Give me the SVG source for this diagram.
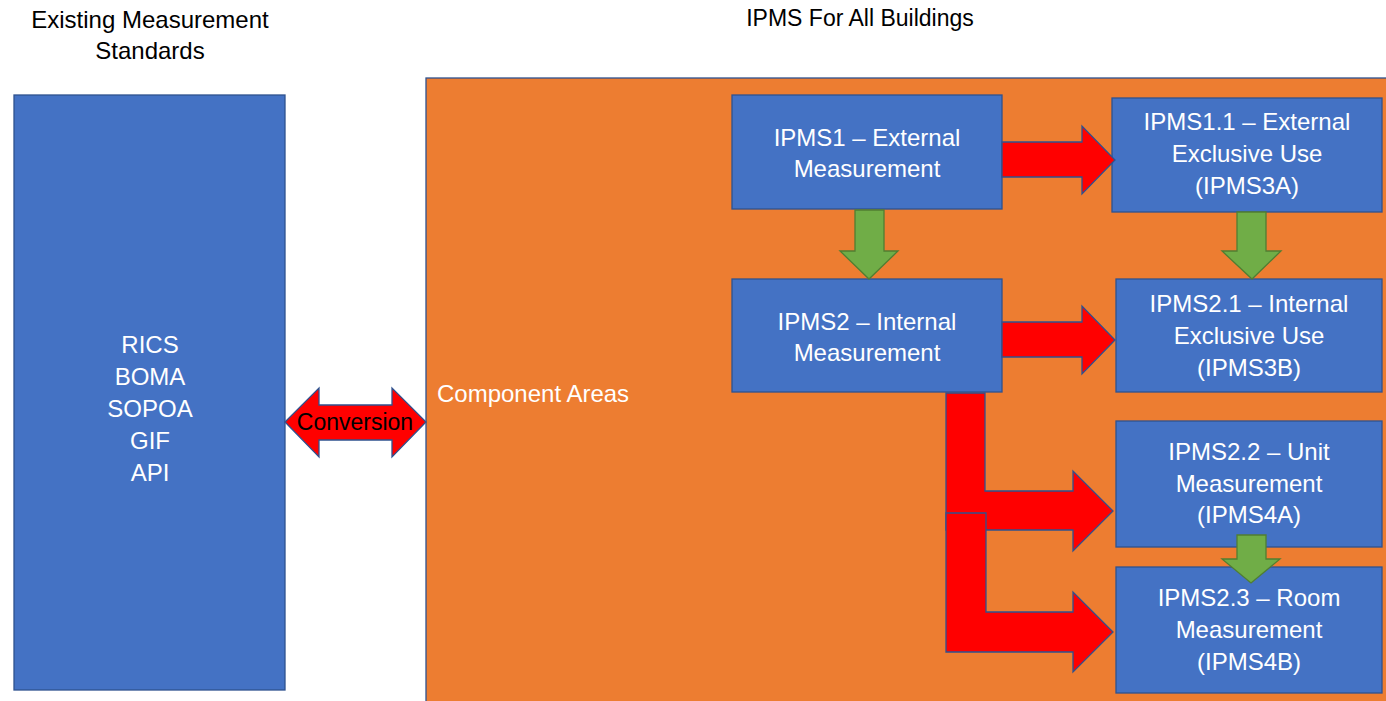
<svg xmlns="http://www.w3.org/2000/svg" width="1386" height="701" viewBox="0 0 1386 701">
<style>
text{font-family:"Liberation Sans",Arial,sans-serif;font-size:24px;text-anchor:middle}
.hdr{fill:#000}
.wt{fill:#fff}
.box{fill:#4472C4;stroke:#2F528F;stroke-width:1.3}
.red{fill:#FF0000;stroke:#2F528F;stroke-width:1.3;stroke-linejoin:miter}
.grn{fill:#70AD47;stroke:#507E32;stroke-width:1.3}
</style>
<rect width="1386" height="701" fill="#fff"/>
<g id="headers">
<text class="hdr" x="150" y="28">Existing Measurement</text>
<text class="hdr" x="150" y="59">Standards</text>
<text class="hdr" x="860" y="26" style="font-size:23px">IPMS For All Buildings</text>
</g>
<g id="existing">
<rect class="box" x="14" y="95" width="271" height="595"/>
<text class="wt" x="150" y="353">RICS</text>
<text class="wt" x="150" y="385">BOMA</text>
<text class="wt" x="150" y="417">SOPOA</text>
<text class="wt" x="150" y="449">GIF</text>
<text class="wt" x="150" y="481">API</text>
</g>
<g id="ipms-area">
<rect x="426" y="78" width="1000" height="700" fill="#ED7D31" stroke="#2F528F" stroke-width="1.3"/>
<text class="wt" x="437" y="402" style="text-anchor:start">Component Areas</text>
</g>
<g id="ipms1">
<rect class="box" x="732" y="95" width="270" height="114"/>
<text class="wt" x="867" y="146">IPMS1 – External</text>
<text class="wt" x="867" y="177">Measurement</text>
</g>
<g id="ipms11">
<rect class="box" x="1112" y="98" width="270" height="114"/>
<text class="wt" x="1247" y="130">IPMS1.1 – External</text>
<text class="wt" x="1247" y="162">Exclusive Use</text>
<text class="wt" x="1247" y="194">(IPMS3A)</text>
</g>
<g id="ipms2">
<rect class="box" x="732" y="279" width="270" height="113"/>
<text class="wt" x="867" y="330">IPMS2 – Internal</text>
<text class="wt" x="867" y="361">Measurement</text>
</g>
<g id="ipms21">
<rect class="box" x="1116" y="279" width="266" height="113"/>
<text class="wt" x="1249" y="312">IPMS2.1 – Internal</text>
<text class="wt" x="1249" y="344">Exclusive Use</text>
<text class="wt" x="1249" y="376">(IPMS3B)</text>
</g>
<g id="ipms22">
<rect class="box" x="1116" y="421" width="266" height="126"/>
<text class="wt" x="1249" y="460">IPMS2.2 – Unit</text>
<text class="wt" x="1249" y="492">Measurement</text>
<text class="wt" x="1249" y="523">(IPMS4A)</text>
</g>
<g id="ipms23">
<rect class="box" x="1116" y="567" width="266" height="126"/>
<text class="wt" x="1249" y="606">IPMS2.3 – Room</text>
<text class="wt" x="1249" y="638">Measurement</text>
<text class="wt" x="1249" y="670">(IPMS4B)</text>
</g>
<g id="connectors">
<polygon id="conversion" class="red" points="285,422 319,388 319,405 392,405 392,388 426,422 392,457 392,440 319,440 319,457"/>
<text x="355" y="430" style="font-size:23px;fill:#000">Conversion</text>
<polygon class="red" points="1002,142 1082,142 1082,126 1115,160 1082,194 1082,177 1002,177"/>
<polygon class="red" points="1002,322 1082,322 1082,306 1115,340 1082,374 1082,357 1002,357"/>
<polygon class="red" points="946,393 985,393 985,491 1073,491 1073,471 1113,511 1073,551 1073,530 946,530"/>
<polygon class="red" points="946,513 986,513 986,612 1073,612 1073,592 1113,632 1073,672 1073,652 946,652"/>
<polygon class="grn" points="855,210 884,210 884,251 898,251 869,279 840,251 855,251"/>
<polygon class="grn" points="1237,212 1266,212 1266,251 1281,251 1252,279 1222,251 1237,251"/>
<polygon class="grn" points="1237,535 1266,535 1266,559 1280,559 1251,583 1222,559 1237,559"/>
</g>
</svg>
